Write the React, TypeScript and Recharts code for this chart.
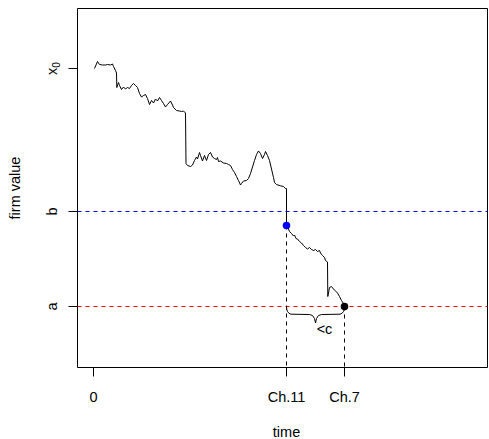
import React from 'react';
import {
  ComposedChart, Line, XAxis, YAxis, ReferenceLine, ReferenceDot, ReferenceArea
} from 'recharts';

// firm value path
const pathTime = [1, 4, 6, 9, 12, 14, 17, 19, 20, 22,
  23, 23.3, 25, 26, 28, 30, 32, 34, 36, 38,
  40, 42, 44, 46, 48, 50, 52, 54, 56, 58,
  60, 62, 64, 66, 68, 70, 72, 74, 77, 79,
  80, 83, 86, 88, 90, 92, 92.5, 94, 97, 99,
  101, 103, 104, 106, 107, 109, 111, 113, 115, 117,
  119, 121, 123, 124, 125, 127, 130, 133, 135, 137,
  139, 141, 143, 145, 147, 148, 150, 153, 155, 157,
  159, 161, 163, 165, 167, 169, 171, 172, 174, 176,
  178, 180, 181, 183, 187, 190, 192, 193, 193, 194.5,
  196, 198, 200, 201, 202.5, 204, 206, 208, 210, 212,
  214, 216, 218, 220, 222, 224, 226, 227, 229, 231,
  232, 234, 234.3, 236, 238, 240, 242, 244, 246, 248,
  250, 251];
const pathValue = [299, 306, 303, 302.5, 302.5, 303, 302.5, 303.5, 301, 297,
  294.5, 280, 285, 282, 278, 280.5, 278.5, 280, 279, 282,
  284, 282, 280, 274, 270.5, 272, 273, 269, 263, 267,
  264.5, 268.5, 266.5, 270, 267, 264, 260.5, 263, 266.5, 262.5,
  260, 257, 256.5, 256, 256.5, 254.5, 204, 202, 201, 202.5,
  207, 210.5, 208.5, 215, 212, 206.5, 212, 207, 213, 215,
  210.5, 209, 208, 210, 206, 206.5, 204.5, 204, 203, 202,
  198, 195, 191, 187, 182.5, 184, 186.5, 187, 189, 194,
  200.5, 207, 213, 216.5, 214, 209, 213, 216, 212, 207,
  198.5, 190, 185, 183, 181.7, 181, 179, 179, 142, 139.5,
  136, 134, 131.5, 132.5, 129, 128.5, 126, 124.5, 122, 120,
  118.5, 120, 118, 117, 118, 116, 117, 114.5, 112, 110,
  107, 105.5, 71, 80, 81, 78.5, 76.5, 74.5, 71, 67,
  64, 61];

// brace between the two chapter times
const braceTime = [193, 193.3, 194, 195.5, 197.5, 216, 219, 221, 222, 223, 225, 228, 246.5, 248.5, 250, 250.7, 251];
const braceValue = [61, 58, 56, 54.2, 53.3, 53, 52, 49, 44.5, 49, 52, 53, 53.3, 54.2, 56, 58, 61];

const xTicks = [0, 193, 251];
const xTickLabels = ['0', 'Ch.11', 'Ch.7'];
const yTicks = [61, 156, 299];
const yTickLabels = ['a', 'b', 'x0'];

const levelA = 61;
const levelB = 156;
const ch11Hit = { t: 193, v: 142 };
const ch7Hit = { t: 251, v: 61 };
const braceNote = { t: 231, v: 37.5, text: '<c' };

const xDomain: [number, number] = [-16, 394];
const yDomain: [number, number] = [0, 359];

const pathData = pathTime.map((t, i) => ({ t, v: pathValue[i] }));
const braceData = braceTime.map((t, i) => ({ t, v: braceValue[i] }));

const FONT = '"Liberation Sans", Arial, sans-serif';
const FS = 14.5;

const XTick = (props: any) => {
  const { x, y, payload } = props;
  const label = xTickLabels[xTicks.indexOf(payload.value)];
  return (
    <text x={x} y={y + 25} textAnchor="middle" fontFamily={FONT} fontSize={FS} fill="#000">
      {label}
    </text>
  );
};

const YTick = (props: any) => {
  const { x, y, payload } = props;
  const label = yTickLabels[yTicks.indexOf(payload.value)];
  const bx = x - 12;
  return (
    <text x={bx} y={y} transform={`rotate(-90, ${bx}, ${y})`} textAnchor="middle"
      fontFamily={FONT} fontSize={FS} fill="#000">
      {label === 'x0' ? (
        <>
          x<tspan fontSize={FS * 0.7} dy={3}>0</tspan>
        </>
      ) : label}
    </text>
  );
};

const App = () => {
  return (
    <div style={{ position: 'absolute', left: 0, top: 0 }}>
      <ComposedChart width={489} height={439} margin={{ top: 8.5, right: 1.5, bottom: 0, left: 0 }}>
        <XAxis
          type="number"
          dataKey="t"
          domain={xDomain}
          ticks={xTicks}
          allowDataOverflow
          axisLine={false}
          tickLine={{ stroke: '#000' }}
          tickSize={9}
          tickMargin={0}
          height={71.5}
          tick={(p: any) => <XTick {...p} />}
          label={{
            content: (p: any) => {
              const vb = p.viewBox || { x: 77.5, y: 367.5, width: 410, height: 71.5 };
              return (
                <text x={vb.x + vb.width / 2 + 4} y={vb.y + 69.5} textAnchor="middle"
                  fontFamily={FONT} fontSize={FS} fill="#000">time</text>
              );
            },
          }}
        />
        <YAxis
          type="number"
          dataKey="v"
          domain={yDomain}
          ticks={yTicks}
          allowDataOverflow
          axisLine={false}
          tickLine={{ stroke: '#000' }}
          tickSize={9}
          tickMargin={0}
          width={77.5}
          tick={(p: any) => <YTick {...p} />}
          label={{
            content: (p: any) => {
              const vb = p.viewBox || { x: 0, y: 8.5, width: 77.5, height: 359 };
              const lx = vb.x + 20;
              const ly = vb.y + vb.height / 2;
              return (
                <text x={lx} y={ly} transform={`rotate(-90, ${lx}, ${ly})`} textAnchor="middle"
                  fontFamily={FONT} fontSize={FS} fill="#000">firm value</text>
              );
            },
          }}
        />
        <ReferenceArea x1={xDomain[0]} x2={xDomain[1]} y1={yDomain[0]} y2={yDomain[1]}
          fill="none" stroke="#000" strokeWidth={1} fillOpacity={0} />
        <Line data={pathData} dataKey="v" type="linear" stroke="#000" strokeWidth={1}
          dot={false} activeDot={false} isAnimationActive={false} />
        <Line data={braceData} dataKey="v" type="linear" stroke="#000" strokeWidth={1}
          dot={false} activeDot={false} isAnimationActive={false} />
        <ReferenceLine y={levelB} stroke="#0000ff" strokeDasharray="4 4" />
        <ReferenceLine y={levelA} stroke="#ff0000" strokeDasharray="4 4" />
        <ReferenceLine segment={[{ x: ch11Hit.t, y: ch11Hit.v }, { x: ch11Hit.t, y: yDomain[0] }]}
          stroke="#000" strokeDasharray="4 4" />
        <ReferenceLine segment={[{ x: ch7Hit.t, y: ch7Hit.v }, { x: ch7Hit.t, y: yDomain[0] }]}
          stroke="#000" strokeDasharray="4 4" />
        <ReferenceDot x={ch11Hit.t} y={ch11Hit.v} r={3.8} fill="#0000ff" stroke="none" />
        <ReferenceDot x={ch7Hit.t} y={ch7Hit.v} r={3.8} fill="#000" stroke="none" />
        <ReferenceDot
          x={braceNote.t}
          y={braceNote.v}
          r={1}
          fill="none"
          stroke="none"
          label={{
            content: (p: any) => {
              const vb = p.viewBox || { x: 0, y: 0, width: 0, height: 0 };
              const cx = vb.x + vb.width / 2;
              const cy = vb.y + vb.height / 2;
              return (
                <text x={cx} y={cy + 3.8} textAnchor="middle" fontFamily={FONT} fontSize={FS} fill="#000">
                  {braceNote.text}
                </text>
              );
            },
          }}
        />
      </ComposedChart>
    </div>
  );
};

export default App;
